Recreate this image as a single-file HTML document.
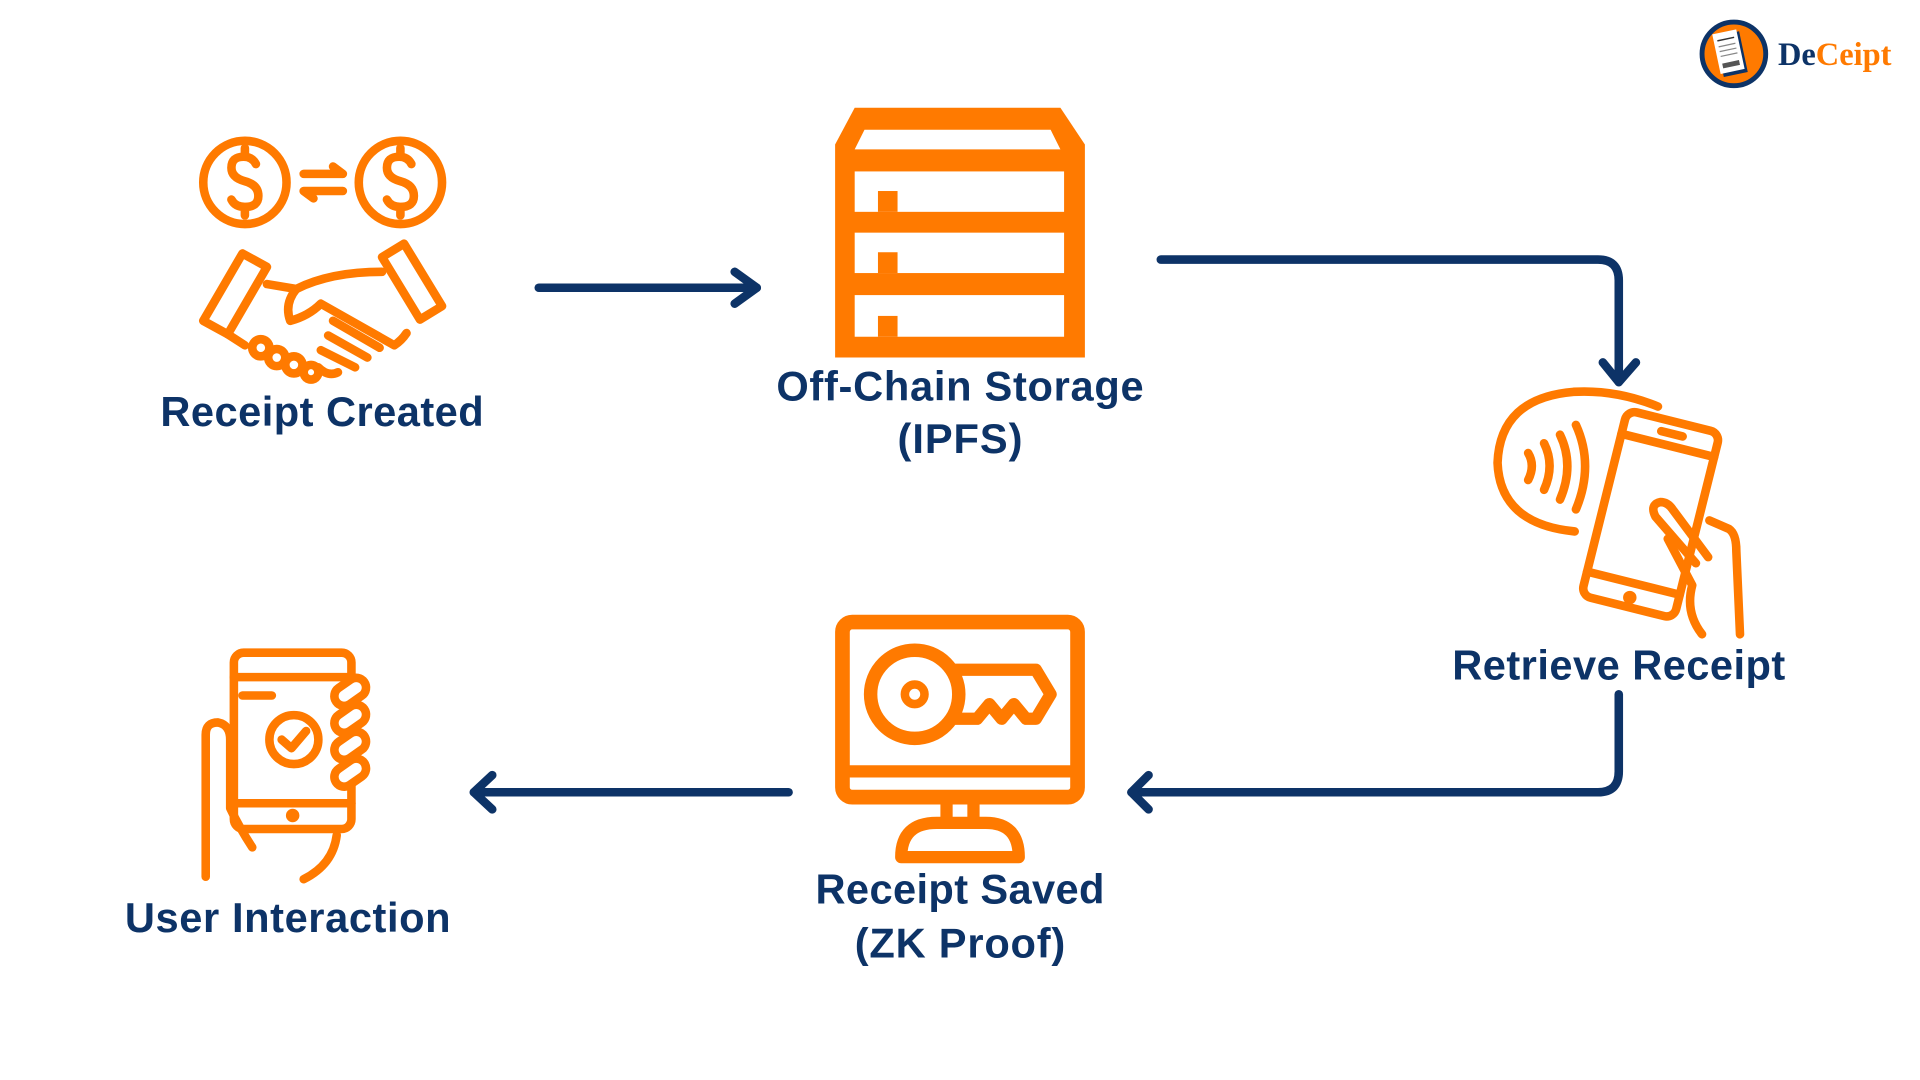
<!DOCTYPE html>
<html><head><meta charset="utf-8"><style>
html,body{margin:0;padding:0;background:#fff;width:1920px;height:1080px;overflow:hidden}
svg{display:block}
.t{font-family:"Liberation Sans",sans-serif;font-weight:bold;fill:#0D3367;font-size:34px}
</style></head><body>
<svg width="1920" height="1080" viewBox="0 0 1568 882" xmlns="http://www.w3.org/2000/svg">
<rect width="1568" height="882" fill="#fff"/>
<!-- logo -->
<circle cx="1416" cy="44" r="26" fill="#FF7A00" stroke="#0D3367" stroke-width="4"/>
<g transform="rotate(-12 1415 44)"><rect x="1404" y="27" width="20" height="34" fill="#0D3367"/><rect x="1402" y="25" width="20" height="33" fill="#fff"/>
<line x1="1405" y1="31" x2="1419" y2="31" stroke="#333" stroke-width="1.2"/><line x1="1405" y1="36" x2="1419" y2="36" stroke="#888" stroke-width="1"/><line x1="1405" y1="40" x2="1419" y2="40" stroke="#888" stroke-width="1"/><line x1="1405" y1="44" x2="1419" y2="44" stroke="#888" stroke-width="1"/><rect x="1405" y="50" width="14" height="4" fill="#555"/></g>
<text x="1452" y="53" font-family="Liberation Serif,serif" font-weight="bold" font-size="26.5"><tspan fill="#0D3367">De</tspan><tspan fill="#FF7A00">Ceipt</tspan></text>

<g fill="none" stroke="#FF7A00" stroke-width="7" stroke-linecap="round" stroke-linejoin="round">
<!-- handshake icon -->
<circle cx="200" cy="149" r="34"/><circle cx="327" cy="149" r="34"/>
<path d="M209 134 Q206 128 199 128 Q189 128 189 137 Q189 145 200 148 Q211 151 211 160 Q211 169 200 169 Q192 169 189 163 M200 121 V127 M200 170 V176"/>
<path d="M336 134 Q333 128 326 128 Q316 128 316 137 Q316 145 327 148 Q338 151 338 160 Q338 169 327 169 Q319 169 316 163 M327 121 V127 M327 170 V176"/>
<path d="M248 142 H280 L272 136 M280 156 H248 L256 162"/>
<path d="M166 262 L198 207 L218 218 L186 273 Z"/>
<path d="M312 210 L330 199 L361 250 L343 261 Z"/>
<path d="M218 232 L242 236 Q270 222 312 222"/>
<path d="M242 236 Q232 248 237 262 Q252 258 262 248 L322 282 Q328 278 332 272"/>
<path d="M186 273 L200 282"/>
<circle cx="213" cy="284" r="7"/><circle cx="226" cy="292" r="7"/><circle cx="240" cy="298" r="7"/><circle cx="254" cy="304" r="6"/>
<path d="M272 262 L310 284 M268 274 L300 292 M262 286 L290 300 M260 300 Q268 308 276 304"/>

<!-- NFC phone -->
<path d="M1354 332 Q1320 318 1285 320 Q1225 325 1223 378 Q1225 428 1286 434"/>
<path d="M1248 370 Q1254 380 1248 392 M1261 362 Q1270 380 1261 400 M1274 355 Q1286 380 1274 408 M1287 347 Q1302 380 1287 416"/>
<g transform="rotate(14 1348 420)"><rect x="1309" y="342" width="78" height="156" rx="8"/><line x1="1309" y1="362" x2="1387" y2="362"/><line x1="1309" y1="478" x2="1387" y2="478"/><line x1="1340" y1="352" x2="1358" y2="352"/></g>
<circle cx="1331" cy="488" r="2" fill="#FF7A00"/>
<path d="M1385 460 L1352 422 Q1347 412 1356 410 Q1362 410 1366 416 L1395 455"/>
<path d="M1362 440 L1382 478 Q1376 500 1390 518"/>
<path d="M1396 425 L1412 432 Q1418 436 1418 450 L1421 518"/>

<!-- user phone -->
<rect x="191" y="533" width="96" height="144" rx="8"/>
<line x1="191" y1="553" x2="287" y2="553"/><line x1="191" y1="656" x2="287" y2="656"/>
<line x1="198" y1="568" x2="222" y2="568"/>
<circle cx="240" cy="604" r="20"/><path d="M230 604 L238 611 L250 597"/>
<circle cx="239" cy="666" r="2" fill="#FF7A00"/>
<rect x="272" y="557" width="28" height="16" rx="8" transform="rotate(-35 286 565)" fill="#fff"/>
<rect x="272" y="579" width="28" height="16" rx="8" transform="rotate(-35 286 587)" fill="#fff"/>
<rect x="272" y="601" width="28" height="16" rx="8" transform="rotate(-35 286 609)" fill="#fff"/>
<rect x="272" y="623" width="28" height="16" rx="8" transform="rotate(-35 286 631)" fill="#fff"/>
<path d="M168 716 V600 Q168 590 178 590 Q188 592 188 604 V660 Q195 675 206 692"/>
<path d="M275 682 Q272 706 248 718"/>

<!-- monitor -->
<rect x="688" y="508" width="192" height="143" rx="8" stroke-width="12"/>
<line x1="688" y1="630" x2="880" y2="630" stroke-width="10"/>
<path d="M773 657 V672 M795 657 V672" stroke-width="10"/>
<path d="M736 700 Q736 672 765 672 H805 Q832 672 832 700 Z" stroke-width="10"/>
<circle cx="747" cy="567" r="36" stroke-width="11"/>
<circle cx="747" cy="567" r="8" stroke-width="7"/>
<path d="M778 547 H846 L858 567 L846 587 H838 L828 575 L818 587 L808 575 L798 587 H778" stroke-width="10"/>
</g>

<!-- storage -->
<path d="M698 88 H866 L886 118 V292 H682 V118 Z" fill="#FF7A00"/>
<path d="M706 106 H858 L866 122 H698 Z" fill="#fff"/>
<rect x="698" y="140" width="171" height="33" fill="#fff"/>
<rect x="698" y="190" width="171" height="33" fill="#fff"/>
<rect x="698" y="241" width="171" height="34" fill="#fff"/>
<rect x="717" y="156" width="16" height="17" fill="#FF7A00"/>
<rect x="717" y="206" width="16" height="17" fill="#FF7A00"/>
<rect x="717" y="258" width="16" height="17" fill="#FF7A00"/>

<!-- connectors -->
<g fill="none" stroke="#0D3367" stroke-width="7" stroke-linecap="round" stroke-linejoin="round">
<path d="M440 235 H618"/><path d="M600 222 L618 235 L600 248"/>
<path d="M948 212 H1305 Q1322 212 1322 229 V312"/><path d="M1309 296 L1322 312 L1336 296"/>
<path d="M1322 567 V630 Q1322 647 1305 647 H924"/><path d="M938 633 L924 647 L938 661"/>
<path d="M644 647 H387"/><path d="M402 633 L387 647 L402 661"/>
</g>

<text class="t" x="263" y="348" text-anchor="middle" textLength="264">Receipt Created</text>
<text class="t" x="784" y="327" text-anchor="middle" textLength="300">Off-Chain Storage</text>
<text class="t" x="784" y="370" text-anchor="middle" textLength="102">(IPFS)</text>
<text class="t" x="1322" y="555" text-anchor="middle" textLength="272">Retrieve Receipt</text>
<text class="t" x="784" y="738" text-anchor="middle" textLength="236">Receipt Saved</text>
<text class="t" x="784" y="782" text-anchor="middle" textLength="172">(ZK Proof)</text>
<text class="t" x="235" y="761" text-anchor="middle" textLength="266">User Interaction</text>
</svg>
</body></html>
